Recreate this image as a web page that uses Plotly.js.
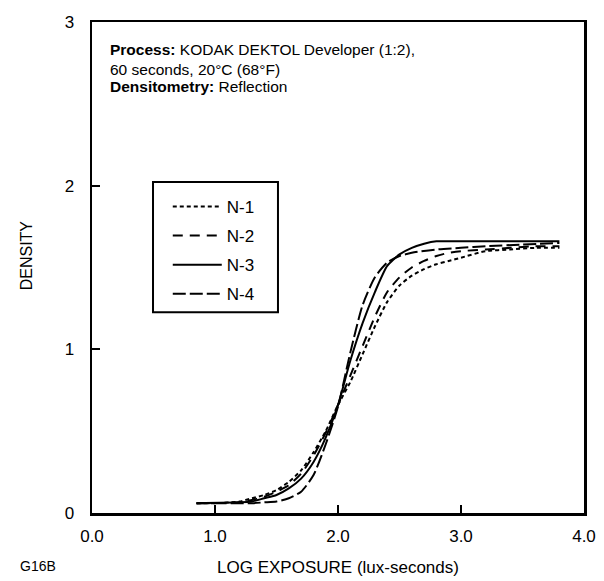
<!DOCTYPE html>
<html>
<head>
<meta charset="utf-8">
<script src="https://cdn.plot.ly/plotly-3.0.1.min.js"></script>
<style>html,body{margin:0;padding:0;background:#fff;}#chart{width:604px;height:581px;}</style>
</head>
<body>
<div id="chart"></div>
<script>
// Log exposure (lux-seconds) and density values
const n1X = [0.85, 1.0, 1.2, 1.3, 1.4, 1.5, 1.6, 1.7, 1.8, 1.9, 2.0, 2.1, 2.2, 2.3, 2.4, 2.5, 2.6, 2.7, 2.8, 2.9, 3.0, 3.2, 3.4, 3.6, 3.8];
const n1Y = [0.06, 0.06, 0.07, 0.09, 0.11, 0.14, 0.19, 0.26, 0.37, 0.50, 0.66, 0.80, 0.97, 1.14, 1.29, 1.39, 1.45, 1.49, 1.52, 1.54, 1.56, 1.60, 1.61, 1.62, 1.62];

const n2X = [0.85, 1.2, 1.3, 1.4, 1.5, 1.6, 1.7, 1.8, 1.9, 2.0, 2.1, 2.2, 2.3, 2.4, 2.5, 2.6, 2.7, 2.8, 2.9, 3.0, 3.2, 3.4, 3.6, 3.8];
const n2Y = [0.06, 0.065, 0.08, 0.10, 0.13, 0.17, 0.24, 0.35, 0.49, 0.66, 0.84, 1.02, 1.20, 1.35, 1.44, 1.50, 1.54, 1.57, 1.59, 1.60, 1.61, 1.62, 1.63, 1.63];

const n3X = [0.85, 1.2, 1.3, 1.4, 1.5, 1.6, 1.7, 1.8, 1.9, 2.0, 2.1, 2.2, 2.3, 2.4, 2.5, 2.6, 2.7, 2.8, 3.0, 3.4, 3.8];
const n3Y = [0.06, 0.065, 0.07, 0.09, 0.11, 0.15, 0.21, 0.31, 0.46, 0.66, 0.93, 1.16, 1.35, 1.51, 1.58, 1.62, 1.645, 1.66, 1.66, 1.66, 1.66];

const n4X = [0.85, 1.3, 1.4, 1.5, 1.6, 1.7, 1.8, 1.9, 2.0, 2.1, 2.2, 2.3, 2.4, 2.5, 2.6, 2.8, 3.0, 3.2, 3.5, 3.8];
const n4Y = [0.06, 0.06, 0.065, 0.07, 0.09, 0.13, 0.23, 0.42, 0.65, 0.98, 1.27, 1.44, 1.53, 1.57, 1.59, 1.61, 1.62, 1.63, 1.64, 1.65];

const seriesNames = ['N-1', 'N-2', 'N-3', 'N-4'];
const xTickVals = [0, 1, 2, 3, 4];
const xTickText = ['0.0', '1.0', '2.0', '3.0', '4.0'];
const yTickVals = [0, 1, 2, 3];
const yTickText = ['0', '1', '2', '3'];
const noteLines = [
  '<b>Process:</b> KODAK DEKTOL Developer (1:2),',
  '60 seconds, 20°C (68°F)',
  '<b>Densitometry:</b> Reflection'
];

const FONT = 'Liberation Sans, Arial, Helvetica, sans-serif';
const dashes = ['4px,3px', '10px,7px', 'solid', '13px,4px'];
const xs = [n1X, n2X, n3X, n4X];
const ys = [n1Y, n2Y, n3Y, n4Y];

const traces = seriesNames.map((name, i) => ({
  type: 'scatter',
  mode: 'lines',
  name: name,
  x: xs[i],
  y: ys[i],
  legendgroup: 'g' + i,
  line: {color: '#000', width: 2, dash: dashes[i], shape: 'spline', smoothing: 0.6}
}));

const noteY = [0.943, 0.904, 0.868];
const noteAnns = noteLines.map((t, i) => ({
  xref: 'paper', yref: 'paper', x: 0.032, y: noteY[i], xanchor: 'left', yanchor: 'middle',
  align: 'left', showarrow: false, text: t,
  font: {family: FONT, size: 15.5, color: '#000'}
}));

const layout = {
  width: 604,
  height: 581,
  margin: {l: 92, r: 20, t: 22, b: 68},
  paper_bgcolor: '#fff',
  plot_bgcolor: '#fff',
  font: {family: FONT, color: '#000', size: 17},
  showlegend: true,
  legend: {
    x: 0.154, y: 0.66, xanchor: 'left', yanchor: 'top',
    bgcolor: 'rgba(0,0,0,0)', borderwidth: 0,
    font: {family: FONT, size: 17, color: '#000'},
    itemwidth: 49,
    tracegroupgap: 4
  },
  xaxis: {
    range: [0, 4],
    tickvals: xTickVals, ticktext: xTickText,
    ticks: 'inside', ticklen: 8, tickwidth: 2, tickcolor: '#000',
    showline: true, linewidth: 2.5, linecolor: '#000', mirror: true,
    showgrid: false, zeroline: false,
    ticklabelstandoff: 6,
    tickfont: {family: FONT, size: 17, color: '#000'},
    title: {text: 'LOG EXPOSURE (lux-seconds)', font: {family: FONT, size: 17, color: '#000'}, standoff: 16}
  },
  yaxis: {
    range: [0, 3],
    tickvals: yTickVals, ticktext: yTickText,
    ticks: 'inside', ticklen: 8, tickwidth: 2, tickcolor: '#000',
    showline: true, linewidth: 2.5, linecolor: '#000', mirror: true,
    showgrid: false, zeroline: false,
    ticklabelstandoff: 12,
    tickfont: {family: FONT, size: 17, color: '#000'}
  },
  shapes: [{
    type: 'rect', xref: 'paper', yref: 'paper',
    x0: 0.124, x1: 0.378, y0: 0.409, y1: 0.674,
    line: {color: '#000', width: 2}, fillcolor: 'rgba(0,0,0,0)'
  }],
  annotations: noteAnns.concat([
    {
      xref: 'paper', yref: 'paper', x: -0.134, y: 0.525, xanchor: 'center', yanchor: 'middle', textangle: -90,
      showarrow: false, text: 'DENSITY',
      font: {family: FONT, size: 16, color: '#000'}
    },
    {
      xref: 'paper', yref: 'paper', x: -0.15, y: -0.108, xanchor: 'left', yanchor: 'middle',
      showarrow: false, text: 'G16B',
      font: {family: FONT, size: 14, color: '#000'}
    }
  ])
};

Plotly.newPlot('chart', traces, layout, {displayModeBar: false, staticPlot: true});
</script>
</body>
</html>
